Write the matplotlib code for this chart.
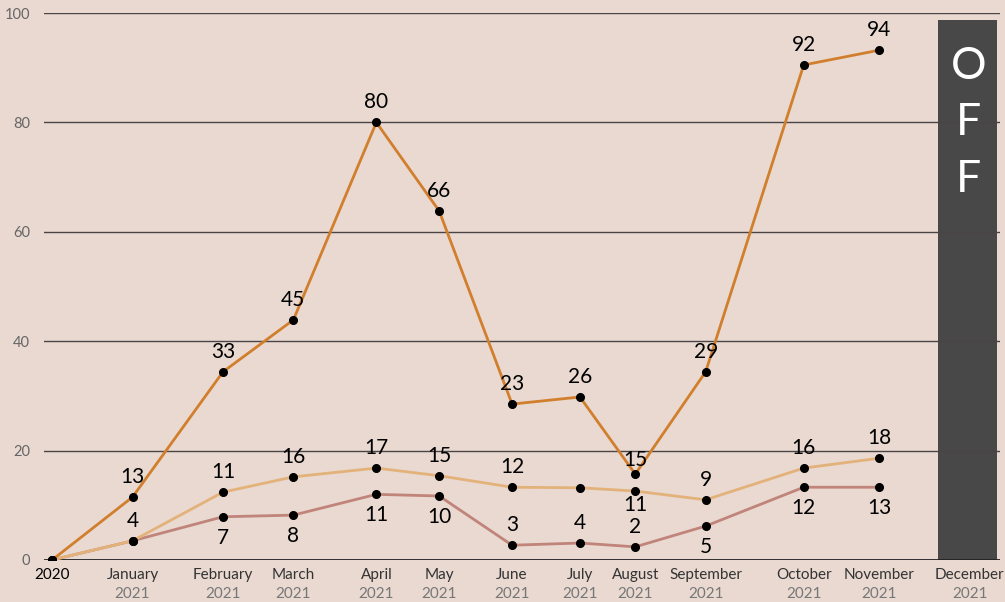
import matplotlib.pyplot as plt
import matplotlib.transforms as mtransforms

plt.rcParams['font.family'] = ['Lato', 'DejaVu Sans']

# Data (x = days after the "2020" start point)
months = ['2020', 'January', 'February', 'March', 'April', 'May', 'June',
          'July', 'August', 'September', 'October', 'November', 'December']
years = ['', '2021', '2021', '2021', '2021', '2021', '2021',
         '2021', '2021', '2021', '2021', '2021', '2021']
x_days = [0, 32, 68, 96, 129, 154, 183, 210, 232, 260, 299, 329, 365]

# plotted values (no point for December: OFF)
orange_vals = [0, 11.5, 34.4, 43.9, 80, 63.8, 28.5, 29.8, 15.7, 34.4, 90.5, 93.2]
orange_labels = [None, 13, 33, 45, 80, 66, 23, 26, 15, 29, 92, 94]
orange_pos = ['a', 'a', 'a', 'a', 'a', 'a', 'a', 'a', 'ac', 'a', 'a', 'a']

tan_vals = [0, 3.5, 12.4, 15.2, 16.8, 15.4, 13.3, 13.2, 12.6, 11.0, 16.8, 18.6]
tan_labels = [None, 4, 11, 16, 17, 15, 12, None, 11, 9, 16, 18]
tan_pos = ['a', 'a', 'a', 'a', 'a', 'a', 'a', 'a', 'bc', 'a', 'a', 'a']

rose_vals = [0, 3.5, 7.9, 8.2, 12.0, 11.7, 2.7, 3.1, 2.4, 6.2, 13.3, 13.3]
rose_labels = [None, None, 7, 8, 11, 10, 3, 4, 2, 5, 12, 13]
rose_pos = ['b', 'b', 'b', 'b', 'b', 'b', 'a', 'a', 'a', 'b', 'b', 'b']

offsets = {'a': 14.5, 'ac': 10.5, 'b': -15, 'bc': -10}

bg = '#e9d9d1'
fig = plt.figure(figsize=(10.05, 6.02), dpi=100, facecolor=bg)
ax = fig.add_axes([0.0438, 0.0698, 0.951, 0.9086])
ax.set_facecolor(bg)
ax.set_xlim(-3.2, 377)
ax.set_ylim(0, 100)

# OFF box for December
dec_x = x_days[-1]
ax.axvspan(dec_x - 12.5, dec_x + 11, ymin=0, ymax=0.987, color='#484848', zorder=1, lw=0)
for i, ch in enumerate('OFF'):
    ax.text(dec_x - 0.5, 90.3 - i * 10.4, ch, color='white', fontsize=32,
            ha='center', va='center', zorder=5)

# grid
for yv in [20, 40, 60, 80, 100]:
    ax.axhline(yv, color='#4a4444', lw=1, zorder=2)
ax.axhline(0, color='#222222', lw=1.3, zorder=2)

series = [
    (orange_vals, orange_labels, orange_pos, '#d17f2c'),
    (tan_vals, tan_labels, tan_pos, '#e3b27a'),
    (rose_vals, rose_labels, rose_pos, '#c0847a'),
]
xs = x_days[:12]
for vals, labels, pos, col in reversed(series):
    ax.plot(xs, vals, color=col, lw=2, zorder=3, solid_capstyle='round')
for vals, labels, pos, col in series:
    ax.plot(xs, vals, 'o', color='black', ms=5.5, zorder=4)
    for xv, yv, lab, p in zip(xs, vals, labels, pos):
        if lab is None:
            continue
        ax.annotate(str(lab), (xv, yv), xytext=(0, offsets[p]), textcoords='offset points',
                    ha='center', va='center', fontsize=15, color='black', zorder=6)

for s in ax.spines.values():
    s.set_visible(False)

ax.set_yticks([0, 20, 40, 60, 80, 100])
ax.set_yticklabels(['0', '20', '40', '60', '80', '100'], color='#666666', fontsize=10.5)
ax.tick_params(axis='y', length=0, pad=10)
ax.set_xticks([])

trans = mtransforms.blended_transform_factory(ax.transData, ax.transAxes)
for xv, m, yr in zip(x_days, months, years):
    if yr:
        ax.text(xv, -0.028, m, transform=trans, ha='center', va='center',
                fontsize=11, color='#333333')
        ax.text(xv, -0.063, yr, transform=trans, ha='center', va='center',
                fontsize=11, color='#777777')
    else:
        ax.text(xv, -0.028, m, transform=trans, ha='center', va='center',
                fontsize=11, color='black')

fig.savefig('out.png', dpi=100, facecolor=bg)
